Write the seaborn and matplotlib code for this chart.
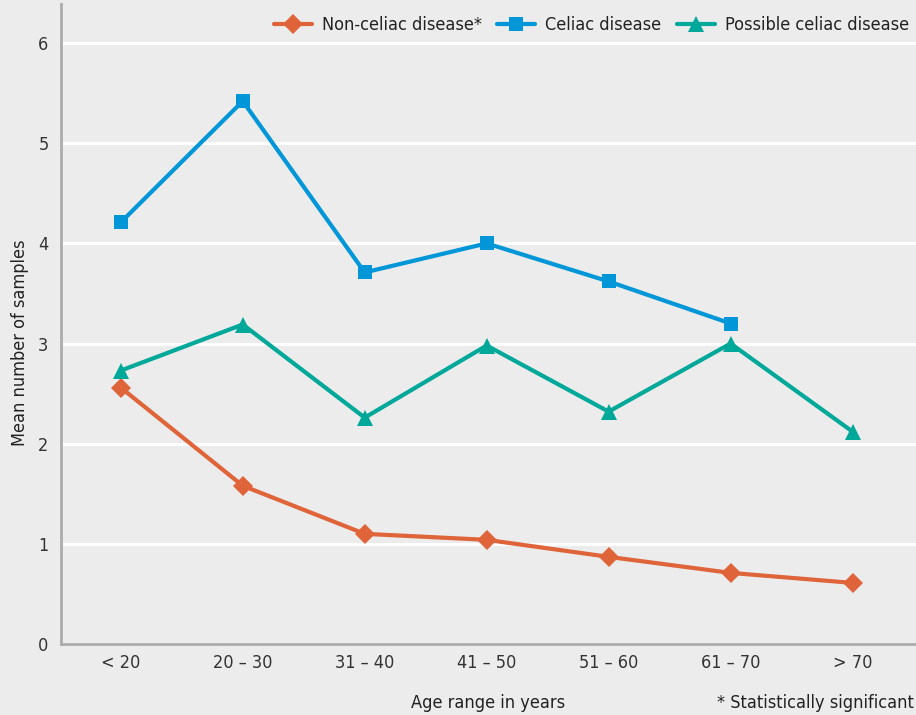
import matplotlib
matplotlib.use("Agg")
import matplotlib.pyplot as plt
import seaborn as sns
import pandas as pd

age_ranges = ["< 20", "20 – 30", "31 – 40", "41 – 50", "51 – 60", "61 – 70", "> 70"]
non_celiac = [2.56, 1.58, 1.10, 1.04, 0.87, 0.71, 0.61]
celiac = [4.21, 5.42, 3.71, 4.00, 3.62, 3.20]
possible = [2.73, 3.19, 2.26, 2.98, 2.32, 3.00, 2.12]

series_names = ["Non-celiac disease*", "Celiac disease", "Possible celiac disease"]
colors = ["#E0643A", "#0096D8", "#00A89A"]
markers = ["D", "s", "^"]
msizes = [10, 10.5, 11]

bg = "#EBECEB"
sns.set_theme(style="white")
plt.rcParams["font.family"] = ["DejaVu Sans"]
plt.rcParams["font.stretch"] = "condensed"

fig = plt.figure(figsize=(9.16, 7.15), dpi=100, facecolor=bg)
ax = fig.add_axes([0.0666, 0.0993, 0.9334, 0.8951])
ax.set_facecolor(bg)

datasets = [non_celiac, celiac, possible]
for name, vals, c, m, ms in zip(series_names, datasets, colors, markers, msizes):
    df = pd.DataFrame({"x": list(range(len(vals))), "y": vals})
    sns.lineplot(data=df, x="x", y="y", ax=ax, color=c, marker=m, markersize=ms,
                 markeredgewidth=0, linewidth=3.0, label=name, zorder=3)

ax.set_xlim(-0.49, 6.52)
ax.set_ylim(0, 6.39)
ax.set_yticks(range(0, 7))
ax.set_xticks(range(len(age_ranges)))
ax.set_xticklabels(age_ranges)
ax.tick_params(axis="both", length=0, labelsize=13, colors="#333333")
ax.tick_params(axis="x", pad=7)
ax.tick_params(axis="y", pad=9)
ax.yaxis.grid(True, color="white", linewidth=2.2)
ax.set_axisbelow(True)

for s in ["top", "right"]:
    ax.spines[s].set_visible(False)
for s in ["left", "bottom"]:
    ax.spines[s].set_color("#ABABAB")
    ax.spines[s].set_linewidth(2)

ax.set_xlabel("")
ax.set_ylabel("Mean number of samples", fontsize=13, color="#222222")
ax.yaxis.set_label_coords(-0.038, 0.47)

fig.text(0.533, 0.004, "Age range in years", fontsize=13, color="#222222", ha="center", va="bottom")
fig.text(0.998, 0.004, "* Statistically significant", fontsize=13, color="#222222", ha="right", va="bottom")

leg = ax.legend(loc="upper right", bbox_to_anchor=(1.0, 0.992), ncol=3, frameon=False,
                fontsize=13, handlelength=2.1, columnspacing=0.85, handletextpad=0.55,
                borderaxespad=0.0)
for t in leg.get_texts():
    t.set_color("#222222")

fig.savefig("out.png", dpi=100, facecolor=bg)
